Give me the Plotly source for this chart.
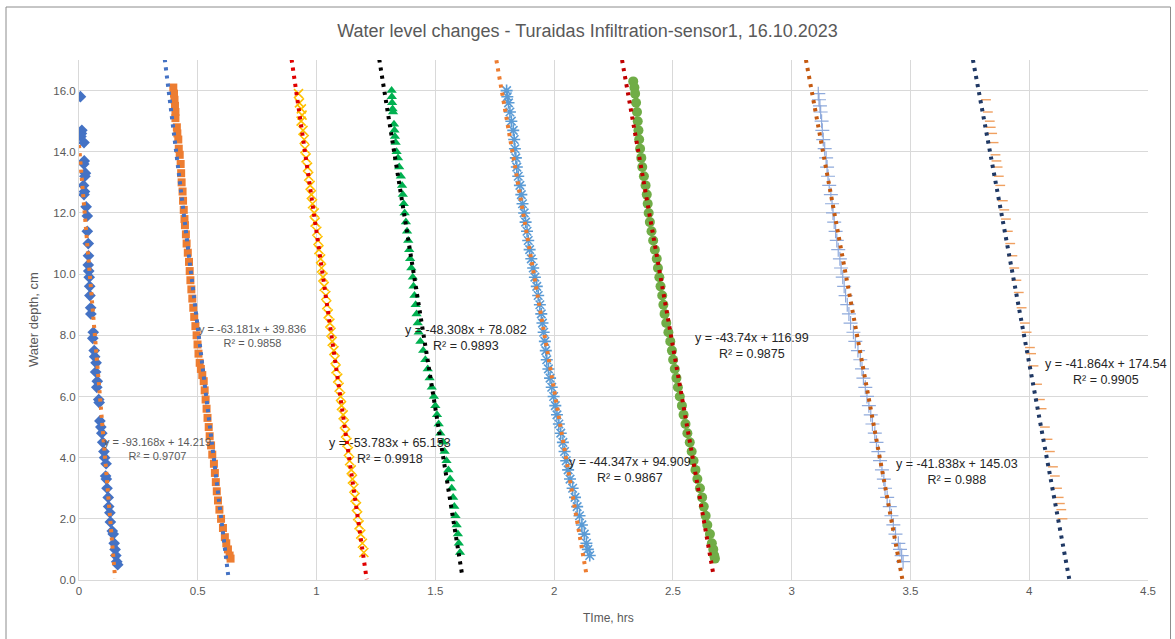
import plotly.graph_objects as go

# ---------------- data ----------------
s1_x = [0.006, 0.012, 0.010, 0.008, 0.021, 0.022, 0.020, 0.027, 0.025, 0.019, 0.023, 0.021, 0.030, 0.035, 0.035,
        0.039, 0.040, 0.039, 0.041, 0.043, 0.045, 0.046, 0.049, 0.050, 0.060, 0.058, 0.064, 0.066, 0.072, 0.070,
        0.077, 0.075, 0.083, 0.085, 0.088, 0.092, 0.096, 0.100, 0.105, 0.108, 0.114, 0.112, 0.115, 0.118, 0.123,
        0.125, 0.130, 0.132, 0.140, 0.144, 0.148, 0.152, 0.155, 0.159, 0.163]
s1_y = [15.8, 14.7, 14.6, 14.5, 14.3, 13.7, 13.6, 13.3, 13.2, 12.9, 12.7, 12.6, 12.2, 11.9, 11.4,
        11.0, 10.6, 10.3, 10.1, 9.9, 9.6, 9.3, 8.9, 8.7, 8.1, 7.9, 7.5, 7.3, 7.1, 6.8,
        6.5, 6.3, 5.9, 5.8, 5.2, 5.0, 4.8, 4.5, 4.2, 4.0, 3.8, 3.4, 3.3, 3.0, 2.7,
        2.4, 2.2, 1.9, 1.6, 1.5, 1.2, 1.0, 0.8, 0.6, 0.5]

s2_x = [0.397, 0.400, 0.402, 0.404, 0.406, 0.406, 0.412, 0.414, 0.418, 0.420, 0.424, 0.428, 0.430, 0.432, 0.436,
        0.438, 0.441, 0.444, 0.446, 0.450, 0.453, 0.458, 0.463, 0.466, 0.469, 0.473, 0.477, 0.481, 0.485, 0.490,
        0.495, 0.499, 0.503, 0.508, 0.513, 0.519, 0.525, 0.529, 0.533, 0.537, 0.541, 0.546, 0.550, 0.556, 0.561,
        0.568, 0.572, 0.576, 0.580, 0.585, 0.591, 0.598, 0.606, 0.614, 0.620, 0.627, 0.634, 0.638]
s2_y = [16.1, 15.9, 15.7, 15.5, 15.3, 15.1, 14.8, 14.6, 14.4, 14.1, 13.9, 13.6, 13.3, 13.0, 12.7,
        12.4, 12.1, 11.8, 11.6, 11.3, 11.0, 10.7, 10.4, 10.1, 9.8, 9.5, 9.2, 8.9, 8.6, 8.3,
        8.0, 7.7, 7.4, 7.1, 6.9, 6.7, 6.5, 6.2, 5.9, 5.6, 5.3, 5.0, 4.7, 4.4, 4.1,
        3.8, 3.5, 3.2, 2.9, 2.6, 2.3, 2.0, 1.7, 1.4, 1.2, 1.0, 0.8, 0.7]

s3_x = [0.924, 0.928, 0.936, 0.939, 0.935, 0.943, 0.948, 0.951, 0.956, 0.962, 0.967, 0.973, 0.978, 0.983, 0.990,
        0.994, 1.001, 1.006, 1.010, 1.017, 1.021, 1.027, 1.032, 1.039, 1.043, 1.049, 1.056, 1.061, 1.066, 1.073,
        1.078, 1.082, 1.089, 1.095, 1.101, 1.105, 1.112, 1.117, 1.122, 1.128, 1.134, 1.139, 1.146, 1.151, 1.157,
        1.162, 1.168, 1.173, 1.179, 1.186, 1.193, 1.199]
s3_y = [15.9, 15.6, 15.4, 15.2, 15.0, 14.7, 14.4, 14.1, 13.8, 13.5, 13.2, 12.9, 12.6, 12.3, 12.0,
        11.7, 11.4, 11.1, 10.8, 10.5, 10.2, 9.9, 9.6, 9.3, 9.0, 8.7, 8.4, 8.1, 7.8, 7.5,
        7.2, 6.9, 6.6, 6.3, 6.0, 5.7, 5.4, 5.1, 4.8, 4.5, 4.2, 3.9, 3.6, 3.3, 3.0,
        2.7, 2.4, 2.1, 1.8, 1.5, 1.2, 0.9]

s4_x = [1.316, 1.317, 1.318, 1.320, 1.322, 1.326, 1.328, 1.330, 1.333, 1.337, 1.343, 1.348, 1.355, 1.360, 1.363,
        1.367, 1.371, 1.376, 1.381, 1.386, 1.390, 1.394, 1.399, 1.405, 1.408, 1.412, 1.417, 1.421, 1.426, 1.430,
        1.437, 1.449, 1.458, 1.468, 1.476, 1.485, 1.494, 1.500, 1.507, 1.514, 1.521, 1.533, 1.539, 1.547, 1.555,
        1.562, 1.569, 1.575, 1.580, 1.585, 1.590, 1.595, 1.599, 1.604]
s4_y = [16.0, 15.8, 15.6, 15.4, 15.3, 14.9, 14.7, 14.5, 14.3, 14.0, 13.8, 13.5, 13.2, 12.9, 12.6,
        12.3, 12.0, 11.7, 11.4, 11.1, 10.8, 10.5, 10.2, 9.9, 9.6, 9.3, 9.0, 8.7, 8.4, 8.1,
        7.8, 7.5, 7.2, 6.9, 6.6, 6.3, 6.0, 5.7, 5.4, 5.1, 4.8, 4.5, 4.2, 3.9, 3.6,
        3.3, 3.0, 2.7, 2.4, 2.1, 1.8, 1.5, 1.2, 0.9]

s5_x = [1.800, 1.803, 1.808, 1.814, 1.820, 1.828, 1.832, 1.835, 1.839, 1.843, 1.849, 1.856, 1.862, 1.867, 1.874,
        1.880, 1.886, 1.891, 1.897, 1.904, 1.912, 1.919, 1.927, 1.933, 1.940, 1.946, 1.951, 1.956, 1.961, 1.965,
        1.969, 1.976, 1.983, 1.990, 1.998, 2.005, 2.012, 2.020, 2.028, 2.037, 2.044, 2.051, 2.059, 2.067, 2.078,
        2.088, 2.097, 2.107, 2.117, 2.127, 2.136, 2.142, 2.150]
s5_y = [16.0, 15.8, 15.6, 15.3, 15.0, 14.7, 14.4, 14.1, 13.8, 13.5, 13.2, 12.9, 12.6, 12.3, 12.0,
        11.7, 11.4, 11.1, 10.8, 10.5, 10.2, 9.9, 9.6, 9.3, 9.0, 8.7, 8.4, 8.1, 7.8, 7.5,
        7.2, 6.9, 6.6, 6.3, 6.0, 5.7, 5.4, 5.1, 4.8, 4.5, 4.2, 3.9, 3.6, 3.3, 3.0,
        2.7, 2.4, 2.1, 1.8, 1.5, 1.2, 1.0, 0.8]

s6_x = [2.333, 2.338, 2.341, 2.345, 2.349, 2.352, 2.355, 2.358, 2.362, 2.367, 2.371, 2.378, 2.385, 2.390, 2.394,
        2.398, 2.403, 2.410, 2.417, 2.424, 2.432, 2.437, 2.443, 2.448, 2.455, 2.460, 2.465, 2.472, 2.481, 2.489,
        2.496, 2.501, 2.508, 2.515, 2.521, 2.529, 2.538, 2.545, 2.553, 2.561, 2.571, 2.579, 2.587, 2.595, 2.603,
        2.614, 2.623, 2.630, 2.638, 2.645, 2.656, 2.664, 2.670, 2.674, 2.677]
s6_y = [16.3, 16.1, 15.9, 15.6, 15.3, 15.0, 14.7, 14.4, 14.1, 13.8, 13.5, 13.2, 12.9, 12.6, 12.3,
        12.0, 11.7, 11.4, 11.1, 10.8, 10.5, 10.2, 9.9, 9.6, 9.3, 9.0, 8.7, 8.4, 8.1, 7.8,
        7.5, 7.2, 6.9, 6.6, 6.3, 6.0, 5.7, 5.4, 5.1, 4.8, 4.5, 4.2, 3.9, 3.6, 3.3,
        3.0, 2.7, 2.4, 2.1, 1.8, 1.5, 1.2, 1.0, 0.8, 0.7]

s7_x = [3.112, 3.115, 3.119, 3.122, 3.126, 3.129, 3.133, 3.139, 3.145, 3.149, 3.153, 3.158, 3.165, 3.170, 3.174,
        3.179, 3.185, 3.190, 3.196, 3.203, 3.208, 3.215, 3.221, 3.227, 3.234, 3.241, 3.248, 3.260, 3.268, 3.279,
        3.289, 3.296, 3.302, 3.310, 3.317, 3.325, 3.333, 3.340, 3.350, 3.357, 3.365, 3.372, 3.380, 3.388, 3.393,
        3.402, 3.413, 3.420, 3.428, 3.437, 3.449, 3.456, 3.463, 3.469]
s7_y = [15.9, 15.7, 15.5, 15.3, 15.0, 14.7, 14.4, 14.1, 13.8, 13.5, 13.2, 12.9, 12.6, 12.3, 12.0,
        11.7, 11.4, 11.1, 10.8, 10.5, 10.2, 9.9, 9.6, 9.3, 9.0, 8.7, 8.4, 8.1, 7.8, 7.5,
        7.2, 6.9, 6.6, 6.3, 6.0, 5.7, 5.4, 5.1, 4.8, 4.5, 4.2, 3.9, 3.6, 3.3, 3.0,
        2.7, 2.4, 2.1, 1.8, 1.5, 1.2, 1.0, 0.8, 0.6]

s8_x = [3.818, 3.826, 3.834, 3.838, 3.844, 3.850, 3.858, 3.862, 3.867, 3.872, 3.878, 3.889, 3.895, 3.902, 3.910,
        3.920, 3.929, 3.937, 3.946, 3.956, 3.968, 3.982, 3.989, 4.003, 4.008, 4.018, 4.033, 4.045, 4.052, 4.066,
        4.077, 4.087, 4.100, 4.108, 4.117, 4.124, 4.129, 4.135, 4.140]
s8_y = [15.7, 15.3, 15.0, 14.8, 14.6, 14.3, 13.9, 13.7, 13.5, 13.2, 12.9, 12.4, 12.1, 11.8, 11.4,
        11.0, 10.6, 10.2, 9.8, 9.4, 8.9, 8.4, 8.1, 7.6, 7.4, 7.0, 6.4, 5.9, 5.6, 5.0,
        4.6, 4.2, 3.7, 3.4, 3.0, 2.7, 2.5, 2.3, 2.0]

# Linear trendlines (as printed on the chart)
trend_slope = [-93.168, -63.181, -53.783, -48.308, -44.347, -43.74, -41.838, -41.864]
trend_intercept = [14.219, 39.836, 65.153, 78.082, 94.909, 116.99, 145.03, 174.54]
trend_r2 = ["0.9707", "0.9858", "0.9918", "0.9893", "0.9867", "0.9875", "0.988", "0.9905"]
trend_x_start = [0.0, 0.361, 0.895, 1.264, 1.757, 2.286, 3.060, 3.763]
trend_x_end = [0.152, 0.628, 1.211, 1.614, 2.137, 2.672, 3.4665, 4.169]
eq_labels = ["y = -93.168x + 14.219", "y = -63.181x + 39.836", "y = -53.783x + 65.153",
             "y = -48.308x + 78.082", "y = -44.347x + 94.909", "y = -43.74x + 116.99",
             "y = -41.838x + 145.03", "y = -41.864x + 174.54"]
label_x = [0.330, 0.732, 1.309, 1.629, 2.319, 2.833, 3.695, 4.322]
label_y = [4.27, 7.98, 4.22, 7.92, 3.60, 7.65, 3.54, 6.81]

x_ticks = [0, 0.5, 1, 1.5, 2, 2.5, 3, 3.5, 4, 4.5]
y_ticks = [0, 2, 4, 6, 8, 10, 12, 14, 16]

# ---------------- styles ----------------
series_x = [s1_x, s2_x, s3_x, s4_x, s5_x, s6_x, s7_x, s8_x]
series_y = [s1_y, s2_y, s3_y, s4_y, s5_y, s6_y, s7_y, s8_y]
marker_styles = [
    dict(symbol="diamond", size=9, color="#4472C4"),
    dict(symbol="square", size=8, color="#ED7D31"),
    dict(symbol="x-thin-open", size=9, color="#FFC000", line=dict(width=1.6, color="#F5B800")),
    dict(symbol="triangle-up", size=9, color="#00B050"),
    dict(symbol="asterisk-open", size=10, color="#5B9BD5", line=dict(width=1.6, color="#5B9BD5")),
    dict(symbol="circle", size=10, color="#70AD47"),
    dict(symbol="cross-thin-open", size=10, color="#8FAADC", line=dict(width=1.2, color="#8FAADC")),
    dict(symbol="line-ew-open", size=7, color="#F0A060", line=dict(width=1.4, color="#F0A060")),
]
trend_colors = ["#ED7D31", "#4472C4", "#E00000", "#000000", "#ED7D31", "#C00000", "#C55A11", "#1F3864"]
label_colors = ["#595959", "#595959", "#262626", "#262626", "#262626", "#262626", "#262626", "#262626"]
label_sizes = [11, 11, 12.5, 12.5, 12.5, 12.5, 12.5, 12.5]

fig = go.Figure()
for i in range(8):
    fig.add_trace(go.Scatter(x=series_x[i], y=series_y[i], mode="markers",
                             marker=marker_styles[i], showlegend=False))
    xs = [trend_x_start[i], trend_x_end[i]]
    ys = [trend_slope[i] * v + trend_intercept[i] for v in xs]
    fig.add_trace(go.Scatter(x=xs, y=ys, mode="lines",
                             line=dict(color=trend_colors[i], width=4, dash="3.2px,5px"),
                             showlegend=False))

annotations = []
for i in range(8):
    annotations.append(dict(x=label_x[i], y=label_y[i], xref="x", yref="y",
                            text=eq_labels[i] + "<br>R² = " + trend_r2[i], showarrow=False,
                            xanchor="center", yanchor="middle", align="center",
                            font=dict(family="Liberation Sans, Arial", size=label_sizes[i], color=label_colors[i])))
annotations.append(dict(x=0.495, y=-0.073, xref="paper", yref="paper", text="TIme, hrs", showarrow=False,
                        xanchor="center", yanchor="middle",
                        font=dict(family="Liberation Sans, Arial", size=12, color="#595959")))
annotations.append(dict(x=-0.043, y=0.5, xref="paper", yref="paper", text="Water depth, cm", showarrow=False,
                        textangle=-90, xanchor="center", yanchor="middle",
                        font=dict(family="Liberation Sans, Arial", size=13, color="#595959")))

fig.update_layout(
    width=1175, height=639,
    margin=dict(l=79, r=27, t=60, b=59),
    paper_bgcolor="white", plot_bgcolor="white",
    title=dict(text="Water level changes - Turaidas Infiltration-sensor1, 16.10.2023",
               x=0.5, xanchor="center", y=1 - 31 / 639, yanchor="middle", yref="container",
               font=dict(family="Liberation Sans, Arial", size=18, color="#595959")),
    annotations=annotations,
    shapes=[dict(type="rect", xref="paper", yref="paper",
                 x0=(6 - 79) / 1069, x1=(1170.5 - 79) / 1069, y0=(580 - 660) / 520, y1=(580 - 7) / 520,
                 line=dict(color="#8C8C8C", width=1), fillcolor="rgba(0,0,0,0)", layer="below")],
    showlegend=False,
)
fig.update_xaxes(range=[0, 4.5], tickvals=x_ticks, ticktext=[f"{v:g}" for v in x_ticks],
                 showgrid=True, gridcolor="#D9D9D9", gridwidth=1, zeroline=False,
                 showline=True, linecolor="#D9D9D9", linewidth=1, ticks="",
                 tickfont=dict(family="Liberation Sans, Arial", size=11.5, color="#595959"))
fig.update_yaxes(range=[0, 17], tickvals=y_ticks, ticktext=[f"{v:.1f}" for v in y_ticks],
                 showgrid=True, gridcolor="#D9D9D9", gridwidth=1, zeroline=False,
                 showline=True, linecolor="#D9D9D9", linewidth=1, ticks="",
                 tickfont=dict(family="Liberation Sans, Arial", size=11.5, color="#595959"))

fig.write_html("out.html")
